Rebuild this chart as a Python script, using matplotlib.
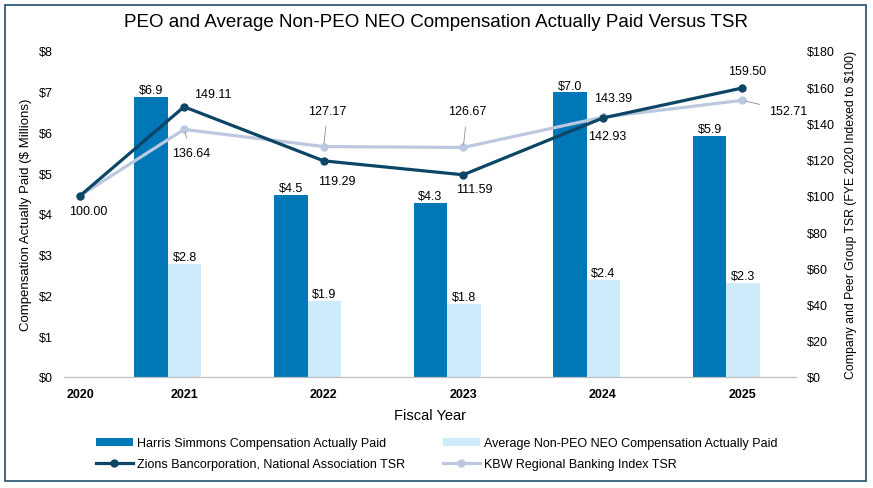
import matplotlib.pyplot as plt
import matplotlib.patches as patches
import numpy as np
from matplotlib import font_manager

# Values
years = ['2020', '2021', '2022', '2023', '2024', '2025']
bar_years = ['2021', '2022', '2023', '2024', '2025']
peo_cap = [6.86, 4.47, 4.26, 6.98, 5.91]
neo_cap = [2.77, 1.86, 1.79, 2.39, 2.31]
zions_tsr = [100.00, 149.11, 119.29, 111.59, 142.93, 159.50]
kbw_tsr = [100.00, 136.64, 127.17, 126.67, 143.39, 152.71]

dark_bar = '#0077B6'
light_bar = '#CDEBFB'
navy = '#0D4566'
kbw_col = '#BCC8E0'

names = {f.name for f in font_manager.fontManager.ttflist}
narrow = 'Liberation Sans Narrow' if 'Liberation Sans Narrow' in names else 'Liberation Sans'
plt.rcParams['font.family'] = ['Liberation Sans', 'DejaVu Sans']

fig = plt.figure(figsize=(8.73, 4.89), dpi=100)
ax = fig.add_axes([0.0733, 0.227, 0.8387, 0.667])
ax2 = ax.twinx()

# bar groups centred on 1..5, lines sit a little right of the centre
grp = np.arange(1, 6)
w = 0.24
line_x = np.array([0.37, 1.115, 2.115, 3.115, 4.115, 5.115])

b1 = ax.bar(grp - w / 2, peo_cap, w, color=dark_bar, label='Harris Simmons Compensation Actually Paid')
b2 = ax.bar(grp + w / 2, neo_cap, w, color=light_bar, label='Average Non-PEO NEO Compensation Actually Paid')
for bars, vals in [(b1, peo_cap), (b2, neo_cap)]:
    for r, v in zip(bars, vals):
        ax.text(r.get_x() + r.get_width() / 2, v + 0.02, f'${v:.1f}',
                ha='center', va='bottom', fontsize=9)

l1, = ax2.plot(line_x, zions_tsr, color=navy, lw=2.3, marker='o', ms=5,
               label='Zions Bancorporation, National Association TSR', zorder=4)
l2, = ax2.plot(line_x, kbw_tsr, color=kbw_col, lw=2.3, marker='o', ms=5,
               label='KBW Regional Banking Index TSR', zorder=3)

# label offsets in pixels (dx, dy), leader line or not
z_off = [(8, -15), (29, 13), (13, -20), (11, -14), (4, -18), (5, 17)]
k_off = [None, (7, -24), (4, 36), (4, 36), (10, 19), (46, -11)]

for x, v, o in zip(line_x, zions_tsr, z_off):
    ax2.annotate(f'{v:.2f}', (x, v), xytext=o, textcoords='offset pixels',
                 ha='center', va='center', fontsize=9)
for x, v, o in zip(line_x, kbw_tsr, k_off):
    if o is None:
        continue
    ax2.annotate(f'{v:.2f}', (x, v), xytext=o, textcoords='offset pixels',
                 ha='center', va='center', fontsize=9,
                 arrowprops=dict(arrowstyle='-', color='#8C8C8C', lw=0.6,
                                 shrinkA=5, shrinkB=2))

ax.set_xlim(0.255, 5.5)
ax.set_ylim(0, 8)
ax2.set_ylim(0, 180)
ax.set_yticks(range(0, 9))
ax.set_yticklabels([f'${i}' for i in range(0, 9)], fontsize=9)
ax2.set_yticks(range(0, 181, 20))
ax2.set_yticklabels([f'${i}' for i in range(0, 181, 20)], fontsize=9)
ax.set_xticks(line_x)
ax.set_xticklabels(years, fontsize=9, fontweight='bold', family=narrow)

for a in (ax, ax2):
    for s in ['top', 'left', 'right']:
        a.spines[s].set_visible(False)
    a.spines['bottom'].set_color('#BFBFBF')
    a.tick_params(length=0)
ax.tick_params(axis='x', pad=8)
ax.tick_params(axis='y', pad=8)
ax2.tick_params(axis='y', pad=8)

ax.set_ylabel('Compensation Actually Paid ($ Millions)', fontsize=9.5, labelpad=5)
ax2.set_ylabel('Company and Peer Group TSR (FYE 2020 Indexed to $100)', fontsize=8.8, labelpad=7)
ax.set_xlabel('Fiscal Year', fontsize=10.5, family=narrow, labelpad=6)

fig.suptitle('PEO and Average Non-PEO NEO Compensation Actually Paid Versus TSR',
             y=0.972, fontsize=13.5)

# matplotlib fills legend columns first, so order handles to get bars on row one
fig.legend(handles=[b1, l1, b2, l2], loc='center', bbox_to_anchor=(0.5, 0.07),
           ncol=2, frameon=False, prop={'family': narrow, 'size': 9},
           handlelength=3, columnspacing=3, handletextpad=0.3, labelspacing=0.7)

fig.patches.append(patches.Rectangle((0.006, 0.014), 0.986, 0.974, transform=fig.transFigure,
                                     fill=False, edgecolor='#1F4E68', lw=1.2))

fig.savefig('out.png', dpi=100)
